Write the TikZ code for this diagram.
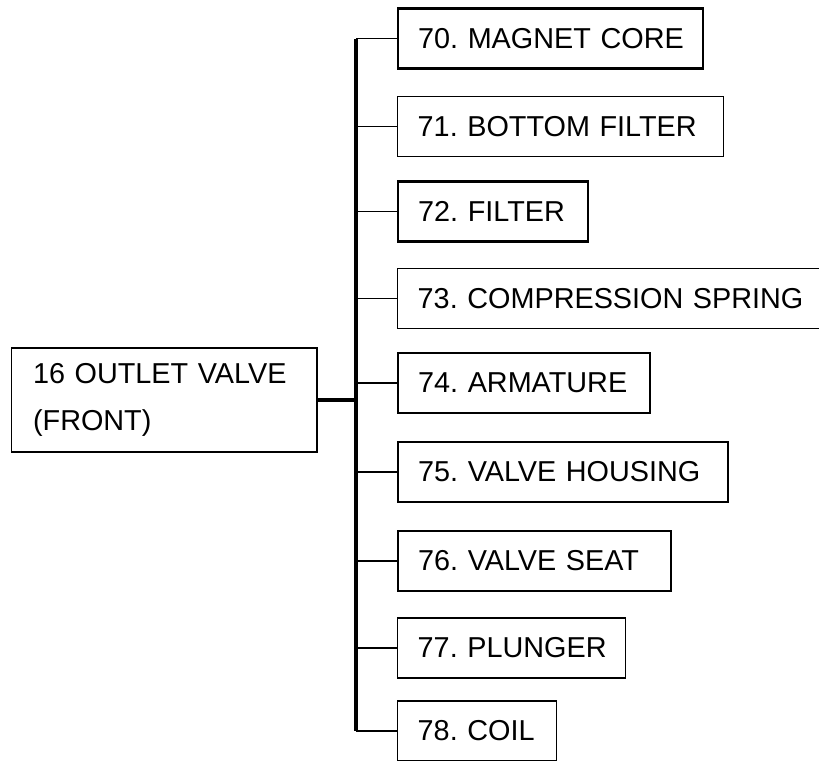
\documentclass[tikz,border=0pt]{standalone}
\usepackage{fontspec}
\setmainfont{Liberation Sans}
\usepackage{tikz}
\usetikzlibrary{positioning}
\frenchspacing
\tikzset{
  partbox/.style={draw, anchor=west, align=left, inner xsep=15pt, inner ysep=0pt,
    minimum height=45pt, font=\fontsize{21.6pt}{35.25pt}\selectfont},
  thickbox/.style={partbox, line width=1.7pt},
  thinbox/.style={partbox, line width=1.1pt},
  mainbox/.style={partbox, line width=1.1pt, minimum height=78pt, inner xsep=16pt},
  trunk/.style={line width=2.7pt},
  branch/.style={line width=1.4pt},
}

\begin{document}
\begin{tikzpicture}[x=0.75pt, y=-0.75pt]
\clip (0,0) rectangle (819,761);
\node[mainbox, text width=197pt] (valve) at (11,400) {\mbox{16 OUTLET VALVE}\\(FRONT)};
\coordinate (bus) at (356,0);
\foreach \n/\yc/\w/\lab/\st [evaluate=\w as \tw using \w*0.75-30] in {
  70/38.5/305/{70. MAGNET CORE}/thickbox,
  71/126.5/326/{71. BOTTOM FILTER}/thinbox,
  72/211.5/190/{72. FILTER}/thickbox,
  73/298.5/440/{73. COMPRESSION SPRING}/thinbox,
  74/383/252/{74. ARMATURE}/thickbox,
  75/472/330/{75. VALVE HOUSING}/thickbox,
  76/561/273/{76. VALVE SEAT}/thickbox,
  77/648/228/{77. PLUNGER}/thinbox,
  78/731/159/{78. COIL}/thinbox}
{
  \node[\st, text width=\tw pt] (p\n) at (397,\yc) {\mbox{\lab}};
  \draw[branch] (bus |- p\n.west) -- (p\n.west);
}
\draw[trunk] (bus |- p70.west) -- (bus |- p78.west);
\draw[trunk] (valve.east) -- (bus |- valve.east);
\end{tikzpicture}
\end{document}
